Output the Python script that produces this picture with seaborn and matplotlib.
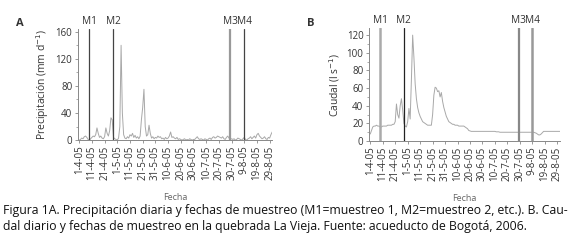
import numpy as np
import pandas as pd
import seaborn as sns
import matplotlib.pyplot as plt
from matplotlib.ticker import MultipleLocator

# daily values, 1 April 2005 to 31 August 2005
precip_apr = [0, 1, 3, 2, 5, 6, 4, 1, 0, 2, 4, 6, 5, 8, 18, 10, 4, 6, 3, 2,
              5, 18, 10, 6, 14, 33, 30, 4, 2, 1]
precip_may = [0, 3, 20, 140, 40, 8, 3, 2, 5, 3, 8, 6, 10, 4, 7, 3, 5, 2, 6, 30,
              48, 75, 20, 6, 8, 22, 10, 3, 5, 2, 4]
precip_jun = [3, 6, 4, 5, 2, 3, 1, 4, 2, 3, 6, 12, 4, 5, 3, 2, 4, 1, 2, 1,
              0, 1, 2, 0, 1, 0, 2, 1, 0, 1]
precip_jul = [1, 3, 5, 2, 1, 2, 1, 0, 2, 1, 0, 2, 3, 1, 4, 5, 3, 4, 6, 5,
              4, 3, 5, 2, 1, 4, 6, 3, 1, 2, 1]
precip_aug = [2, 0, 1, 3, 2, 1, 0, 2, 4, 1, 0, 2, 3, 5, 2, 4, 6, 3, 8, 10,
              6, 4, 2, 3, 5, 2, 1, 4, 3, 8, 12]

caudal_apr = [8, 12, 16, 17, 17, 18, 17, 17, 16, 16, 17, 17, 17, 17, 18, 18, 18, 18, 19, 19,
              22, 42, 30, 26, 40, 48, 35, 20, 17, 16]
caudal_may = [22, 37, 25, 70, 120, 95, 65, 48, 38, 32, 28, 25, 22, 21, 20, 19, 18, 18, 18, 18,
              30, 52, 61, 60, 56, 57, 50, 55, 45, 38, 33]
caudal_jun = [28, 25, 22, 21, 20, 19, 19, 18, 18, 18, 17, 17, 17, 17, 17, 16, 15, 14, 12, 11.5,
              11, 11, 11, 11, 11, 11, 11, 11, 11, 11]
caudal_jul = [11, 11, 11, 11, 11, 11, 11, 11, 11, 11, 10.5, 10.5, 10.5, 10, 10, 10, 10, 10, 10, 10,
              10, 10, 10, 10, 10, 10, 10, 10, 10, 10, 10]
caudal_aug = [10, 10, 10, 10, 10, 10, 10, 10, 10, 10, 9.5, 9, 8, 7, 7, 8, 9.5, 11, 11, 11,
              11, 11, 11, 11, 11, 11, 11, 11, 11, 11, 11]

sample_names = ["M1", "M2", "M3", "M4"]
sample_dates = ["2005-04-09", "2005-04-28", "2005-07-29", "2005-08-09"]

tick_dates = pd.date_range("2005-04-01", "2005-08-29", freq="10D")
tick_labels = ["1-4-05", "11-4-05", "21-4-05", "1-5-05", "11-5-05", "21-5-05", "31-5-05",
               "10-6-05", "20-6-05", "30-6-05", "10-7-05", "20-7-05", "30-7-05",
               "9-8-05", "19-8-05", "29-8-05"]

dates = pd.date_range("2005-04-01", "2005-08-31", freq="D")
df = pd.DataFrame({
    "fecha": dates,
    "precip": precip_apr + precip_may + precip_jun + precip_jul + precip_aug,
    "caudal": caudal_apr + caudal_may + caudal_jun + caudal_jul + caudal_aug,
})

sns.set_style("ticks")
plt.rcParams["font.family"] = ["Open Sans", "DejaVu Sans"]

fig = plt.figure(figsize=(5.73, 2.42), dpi=100)
axA = fig.add_axes([0.136, 0.421, 0.339, 0.459])
axB = fig.add_axes([0.644, 0.417, 0.333, 0.467])

grey = "#a8a8a8"
txt = "#333333"

def style_axis(ax, ylim, major, ylabel):
    ax.set_xlim(pd.Timestamp("2005-03-31"), pd.Timestamp("2005-08-31"))
    ax.set_ylim(*ylim)
    ax.yaxis.set_major_locator(MultipleLocator(major))
    ax.yaxis.set_minor_locator(MultipleLocator(major / 2))
    ax.set_xticks(tick_dates)
    ax.set_xticklabels(tick_labels, rotation=90)
    sns.despine(ax=ax)
    for s in ["left", "bottom"]:
        ax.spines[s].set_color("#888888")
        ax.spines[s].set_linewidth(0.7)
    ax.tick_params(axis="both", labelsize=7.0, colors="#888888", labelcolor=txt,
                   length=2.5, width=0.6, pad=1.5)
    ax.tick_params(axis="y", which="minor", length=1.5, width=0.5, colors="#888888")
    ax.set_ylabel(ylabel, fontsize=7.4, color=txt, labelpad=3)
    ax.set_xlabel("Fecha", fontsize=6.5, color="#666666", labelpad=9)

# Panel A
sns.lineplot(data=df, x="fecha", y="precip", ax=axA, color=grey, linewidth=0.7)
style_axis(axA, (0, 164), 40, "Precipitación (mm d$^{-1}$)")
lineA = [("#444444", 0.9), ("#444444", 0.9), ("#999999", 1.6), ("#444444", 0.9)]
for name, d, (c, lw) in zip(sample_names, sample_dates, lineA):
    axA.axvline(pd.Timestamp(d), color=c, linewidth=lw, ymax=1.0)
    axA.text(pd.Timestamp(d), 1.02, name, transform=axA.get_xaxis_transform(),
             ha="center", va="bottom", fontsize=7.3, color=txt)

# Panel B
sns.lineplot(data=df, x="fecha", y="caudal", ax=axB, color=grey, linewidth=0.7)
style_axis(axB, (0, 128), 20, "Caudal (l s$^{-1}$)")
lineB = [("#aaaaaa", 1.8), ("#222222", 0.9), ("#888888", 1.6), ("#999999", 1.8)]
for name, d, (c, lw) in zip(sample_names, sample_dates, lineB):
    axB.axvline(pd.Timestamp(d), color=c, linewidth=lw, ymax=1.0)
    axB.text(pd.Timestamp(d), 1.02, name, transform=axB.get_xaxis_transform(),
             ha="center", va="bottom", fontsize=7.3, color=txt)

fig.text(16 / 573, 1 - 23 / 242, "A", fontsize=8, fontweight="bold", color=txt, va="center")
fig.text(307 / 573, 1 - 23 / 242, "B", fontsize=8, fontweight="bold", color=txt, va="center")

caption = ("Figura 1A. Precipitación diaria y fechas de muestreo (M1=muestreo 1, M2=muestreo 2, etc.). B. Cau-\n"
           "dal diario y fechas de muestreo en la quebrada La Vieja. Fuente: acueducto de Bogotá, 2006.")
fig.text(3 / 573, 1 - 204 / 242, caption, fontsize=8.8, color="#111111", va="top",
         linespacing=1.3)

fig.savefig("out.png", dpi=100)
